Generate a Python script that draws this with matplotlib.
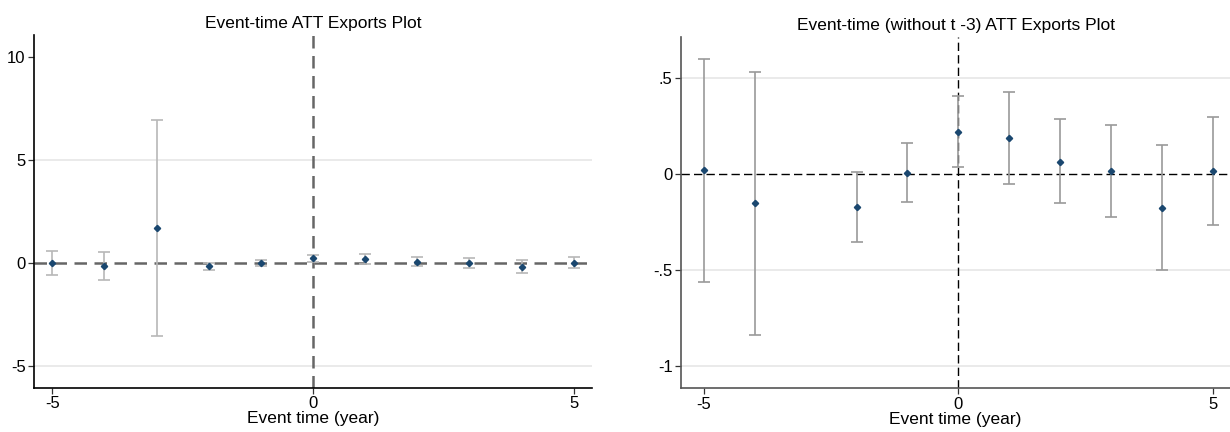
import matplotlib.pyplot as plt
from matplotlib.ticker import FixedLocator

plt.rcParams['font.family'] = ['Liberation Sans', 'DejaVu Sans']
plt.rcParams['axes.unicode_minus'] = False

# event time estimates, all periods
t_all = [-5, -4, -3, -2, -1, 0, 1, 2, 3, 4, 5]
att_all = [0.02, -0.15, 1.72, -0.17, 0.01, 0.22, 0.19, 0.07, 0.02, -0.18, 0.02]
lo_all = [-0.56, -0.84, -3.53, -0.35, -0.15, 0.04, -0.05, -0.15, -0.22, -0.50, -0.26]
hi_all = [0.60, 0.53, 6.94, 0.01, 0.16, 0.41, 0.43, 0.29, 0.26, 0.15, 0.30]

# same estimates dropping t = -3
t_no3 = [-5, -4, -2, -1, 0, 1, 2, 3, 4, 5]
att_no3 = [0.021, -0.151, -0.172, 0.007, 0.221, 0.190, 0.066, 0.019, -0.177, 0.016]
lo_no3 = [-0.560, -0.835, -0.353, -0.146, 0.037, -0.052, -0.150, -0.221, -0.501, -0.263]
hi_no3 = [0.600, 0.534, 0.009, 0.160, 0.409, 0.430, 0.287, 0.256, 0.150, 0.296]

yticks_left = [-5, 0, 5, 10]
yticks_right = [-1, -0.5, 0, 0.5]
yticklabels_right = ['-1', '-.5', '0', '.5']

navy = '#1a476f'
fig = plt.figure(figsize=(12.3, 4.32), dpi=100)


def panel(ax, t, att, lo, hi, title, bar_color, ref_style, spine_color):
    ax.set_title(title, fontsize=12.5, pad=5)
    yerr = [[a - l for a, l in zip(att, lo)], [h - a for a, h in zip(att, hi)]]
    ax.errorbar(t, att, yerr=yerr, fmt='none', ecolor=bar_color,
                elinewidth=1.2, capsize=4, capthick=1.2, zorder=3)
    ax.plot(t, att, 'D', color=navy, markersize=3.2, zorder=4)
    ax.axhline(0, **ref_style, zorder=2)
    ax.axvline(0, **ref_style, zorder=2)
    for s in ['top', 'right']:
        ax.spines[s].set_visible(False)
    for s in ['left', 'bottom']:
        ax.spines[s].set_color(spine_color)
        ax.spines[s].set_linewidth(1.2)
    ax.set_xticks([-5, 0, 5])
    ax.set_xticklabels(['-5', '0', '5'])
    ax.tick_params(labelsize=12, length=4, width=0.9, colors='#333333',
                   labelcolor='black', pad=2)
    ax.set_xlabel('Event time (year)', fontsize=12.5, labelpad=0)


ax1 = fig.add_axes([0.0276, 0.1019, 0.4537, 0.817])
panel(ax1, t_all, att_all, lo_all, hi_all, 'Event-time ATT Exports Plot',
      '#b8b8b8', dict(color='#666666', lw=1.8, ls=(0, (5, 3))), 'black')
ax1.set_xlim(-5.35, 5.35)
ax1.set_ylim(-6.07, 11.07)
ax1.yaxis.set_major_locator(FixedLocator(yticks_left))
for y in [-5, 5]:
    ax1.axhline(y, color='#e6e6e6', lw=1.2, zorder=1)

ax2 = fig.add_axes([0.5537, 0.1012, 0.4463, 0.8125])
panel(ax2, t_no3, att_no3, lo_no3, hi_no3,
      'Event-time (without t -3) ATT Exports Plot', '#9a9a9a',
      dict(color='black', lw=1.0, ls=(0, (6, 3))), '#555555')
ax2.set_xlim(-5.45, 5.34)
ax2.set_ylim(-1.115, 0.713)
ax2.yaxis.set_major_locator(FixedLocator(yticks_right))
ax2.set_yticklabels(yticklabels_right)
for y in [-1, -0.5, 0.5]:
    ax2.axhline(y, color='#e6e6e6', lw=1.2, zorder=1)

fig.savefig('out.png', dpi=100)
